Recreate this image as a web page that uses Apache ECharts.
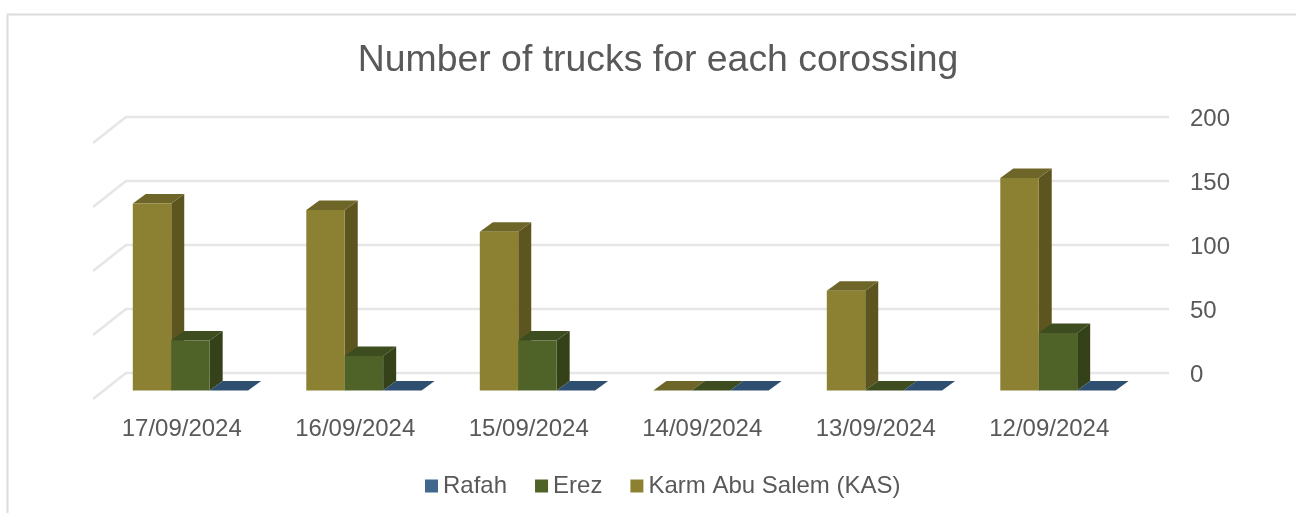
<!DOCTYPE html>
<html>
<head>
<meta charset="utf-8">
<style>
  html, body { margin: 0; padding: 0; background: #fff; }
  #chart { width: 1296px; height: 513px; }
</style>
<script src="https://cdn.jsdelivr.net/npm/echarts@6/dist/echarts.min.js"></script>
</head>
<body>
<div id="chart"></div>
<script>
var categories = ['17/09/2024', '16/09/2024', '15/09/2024', '14/09/2024', '13/09/2024', '12/09/2024'];
var rafah = [0, 0, 0, 0, 0, 0];
var erez = [39, 27, 39, 0, 0, 45];
var kas = [146, 141, 124, 0, 78, 166];
var yTicks = [0, 50, 100, 150, 200];

var textColor = '#595959';
var fontName = '"Liberation Sans", Arial, sans-serif';

// the 3d look: a bar sits part way into the floor, the walls at the back
function barRenderer(slot, front, side, top) {
  return function (params, api) {
    var p = api.coord([api.value(0), api.value(1)]);
    var zero = api.coord([api.value(0), 0]);
    var w = api.size([1, 0])[0] * 0.2215;
    var x0 = p[0] + 8.7 + (slot - 1.5) * w;
    var x1 = x0 + w;
    var yt = p[1] + 17.5;
    var yb = zero[1] + 17.5;
    var dx = 13, dy = 9.5;
    return {
      type: 'group',
      children: [
        { type: 'polygon', shape: { points: [[x1, yt], [x1 + dx, yt - dy], [x1 + dx, yb - dy], [x1, yb]] }, style: { fill: side } },
        { type: 'polygon', shape: { points: [[x0, yt], [x0 + dx, yt - dy], [x1 + dx, yt - dy], [x1, yt]] }, style: { fill: top } },
        { type: 'rect', shape: { x: x0, y: yt, width: w, height: yb - yt }, style: { fill: front } }
      ]
    };
  };
}

function wallRenderer(params, api) {
  var cs = params.coordSys;
  var y = api.coord([0, api.value(0)])[1];
  return {
    type: 'polyline',
    shape: { points: [[cs.x - 2, y + 26], [cs.x + 31, y], [cs.x + cs.width + 33, y]] },
    style: { fill: 'none', stroke: '#e6e6e6', lineWidth: 2.5 }
  };
}

function toPairs(values) {
  return values.map(function (v, i) { return [i, v]; });
}

var myChart = echarts.init(document.getElementById('chart'), null, { renderer: 'canvas' });
myChart.setOption({
  animation: false,
  backgroundColor: '#fff',
  textStyle: { fontFamily: fontName },
  title: {
    text: 'Number of trucks for each corossing',
    left: 653,
    top: 37,
    textAlign: 'center',
    textStyle: { color: textColor, fontSize: 37.4, fontWeight: 'normal', fontFamily: fontName }
  },
  graphic: [{
    type: 'polyline',
    shape: { points: [[7.5, 520], [7.5, 14.5], [1300, 14.5]] },
    style: { fill: 'none', stroke: '#dcdcdc', lineWidth: 2 },
    silent: true
  }],
  legend: {
    data: ['Rafah', 'Erez', 'Karm Abu Salem (KAS)'],
    left: 420,
    top: 469,
    icon: 'rect',
    itemWidth: 13,
    itemHeight: 13,
    itemGap: 28,
    textStyle: { color: textColor, fontSize: 24, fontFamily: fontName }
  },
  grid: { left: 95, top: 117, width: 1041, height: 256 },
  xAxis: {
    type: 'category',
    data: categories,
    axisLine: { show: false },
    axisTick: { show: false },
    axisLabel: { color: textColor, fontSize: 24, margin: 44, fontFamily: fontName, interval: 0 }
  },
  yAxis: {
    type: 'value',
    position: 'right',
    min: 0,
    max: 200,
    interval: 50,
    axisLine: { show: false },
    axisTick: { show: false },
    splitLine: { show: false },
    axisLabel: {
      margin: 54,
      formatter: '{v|{value}}',
      rich: { v: { color: textColor, fontSize: 24, fontFamily: fontName, padding: [4, 0, 0, 0] } }
    }
  },
  series: [
    {
      name: 'walls',
      type: 'custom',
      renderItem: wallRenderer,
      data: yTicks.map(function (t) { return [t]; }),
      encode: { y: 0 },
      silent: true,
      z: 1
    },
    {
      name: 'Karm Abu Salem (KAS)',
      type: 'custom',
      renderItem: barRenderer(0, '#8c8032', '#5d5520', '#6e6629'),
      data: toPairs(kas),
      encode: { x: 0, y: 1 },
      itemStyle: { color: '#8c8032' },
      z: 2
    },
    {
      name: 'Erez',
      type: 'custom',
      renderItem: barRenderer(1, '#4f6228', '#344119', '#3d4d1f'),
      data: toPairs(erez),
      encode: { x: 0, y: 1 },
      itemStyle: { color: '#4f6228' },
      z: 3
    },
    {
      name: 'Rafah',
      type: 'custom',
      renderItem: barRenderer(2, '#41678c', '#2b4868', '#2f4f70'),
      data: toPairs(rafah),
      encode: { x: 0, y: 1 },
      itemStyle: { color: '#41678c' },
      z: 4
    }
  ]
});
</script>
</body>
</html>
